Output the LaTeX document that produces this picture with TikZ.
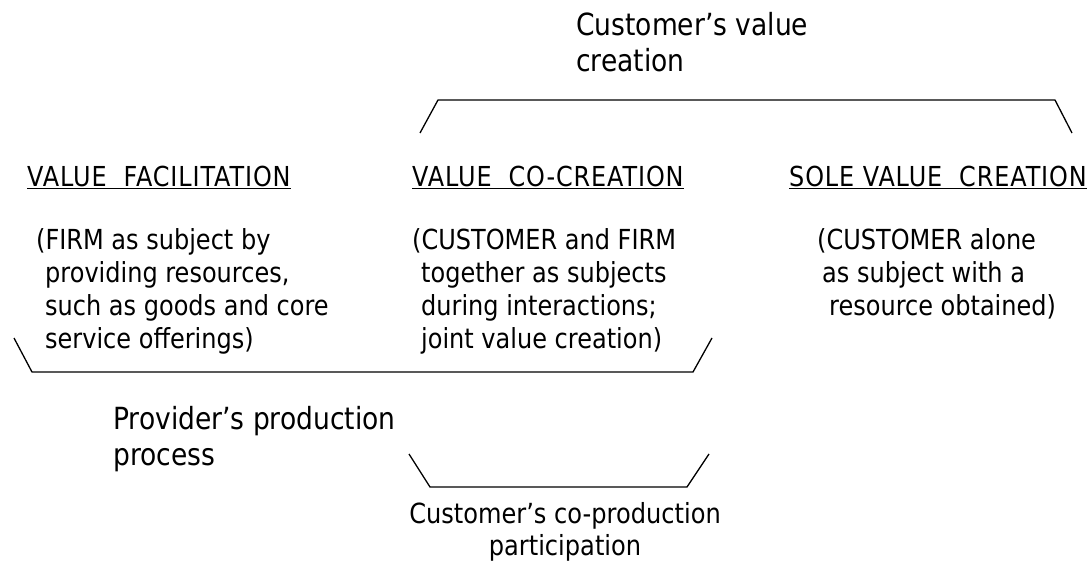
\documentclass[tikz,border=0pt]{standalone}
\usepackage{fontspec}
\setmainfont[FakeStretch=0.87]{DejaVu Sans}
\newcommand{\bodysize}{\fontsize{27.6}{33}\selectfont}
\newcommand{\headsize}{\fontsize{27.5}{33}\selectfont\addfontfeature{LetterSpace=3.2}}
\newcommand{\bigsize}{\fontsize{30.5}{36}\selectfont}
\newcommand{\midsize}{\fontsize{27.7}{32}\selectfont}
\tikzstyle{bignode} = [inner sep=0pt, 
align=left, 
anchor=base west, 
font=\bigsize]
\tikzstyle{headnode} = [inner sep=0pt, 
anchor=base west, 
font=\headsize]
\tikzstyle{textnode} = [inner sep=0pt, 
align=left, 
anchor=base west, 
font=\bodysize]
\tikzstyle{bracket} = [line width=1.3pt]

\begin{document}
\begin{tikzpicture}[x=1pt, y=-1pt]
\useasboundingbox (0,0) rectangle (1088,570);

% multi-line nodes sit on their last baseline
\node (custvalue) [bignode] at (576,71) {Customer’s value\\creation};

\node (facil) [headnode] at (27,186) {\underline{VALUE\ \ FACILITATION}};
\node (cocreate) [headnode] at (412,186) {\underline{VALUE\ \ CO-CREATION}};
\node (sole) [headnode] at (789,186) {\underline{SOLE VALUE\ \ CREATION}};

\node (facilbody) [textnode] at (36,348) {(FIRM as subject by\\
\hspace*{9pt}providing resources,\\
\hspace*{9pt}such as goods and core\\
\hspace*{9pt}service offerings)};

\node (cocreatebody) [textnode] at (412,348) {(CUSTOMER and FIRM\\
\hspace*{9pt}together as subjects\\
\hspace*{9pt}during interactions;\\
\hspace*{9pt}joint value creation)};

\node (solebody) [textnode] at (817,315) {(CUSTOMER alone\\
\hspace*{5pt}as subject with a\\
\hspace*{12pt}resource obtained)};

\node (provider) [bignode] at (113,465) {Provider’s production\\process};

\node (coprod) [textnode, font=\midsize, align=center, anchor=base] at (565,555) {Customer’s co-production\\participation};

% brackets
\draw [bracket] (420,133) -- (438,100) -- (1055,100) -- (1072,133);
\draw [bracket] (14,338) -- (32,372) -- (693,372) -- (712,338);
\draw [bracket] (409,454) -- (430,487) -- (687,487) -- (709,454);

\end{tikzpicture}
\end{document}
